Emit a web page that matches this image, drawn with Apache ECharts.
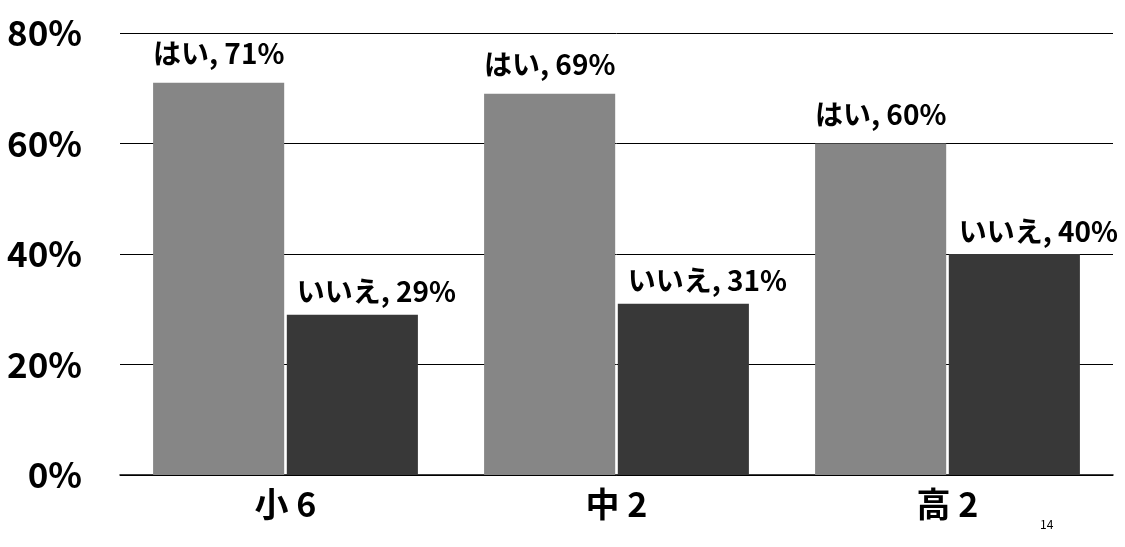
<!DOCTYPE html>
<html>
<head>
<meta charset="utf-8">
<script src="https://cdn.jsdelivr.net/npm/echarts@6/dist/echarts.min.js"></script>
<style>
html,body{margin:0;padding:0;background:#fff;}
#chart{width:1125px;height:547px;}
</style>
</head>
<body>
<div id="chart"></div>
<script>
const categories = ['小 6', '中 2', '高 2'];
const seriesNames = ['はい', 'いいえ'];
const yesValues = [71, 69, 60];
const noValues = [29, 31, 40];
const yTicks = [0, 20, 40, 60, 80];
const pageNumber = '14';

const FONT = '"Noto Sans CJK JP", "Noto Sans", sans-serif';
const chart = echarts.init(document.getElementById('chart'));
chart.setOption({
  backgroundColor: '#ffffff',
  animation: false,
  grid: { left: 120, right: 12, top: 33, bottom: 72, containLabel: false },
  xAxis: {
    type: 'category',
    data: categories,
    axisLine: { show: true, lineStyle: { color: '#000', width: 1.5 } },
    axisTick: { show: false },
    axisLabel: { color: '#000', fontSize: 34, fontWeight: 'bold', fontFamily: FONT, margin: 12 }
  },
  yAxis: {
    type: 'value',
    min: yTicks[0],
    max: yTicks[yTicks.length - 1],
    interval: 20,
    axisLine: { show: false },
    axisTick: { show: false },
    axisLabel: { color: '#000', fontSize: 35, fontWeight: 'bold', fontFamily: FONT, margin: 38, formatter: '{value}%' },
    splitLine: { lineStyle: { color: '#000', width: 1 } }
  },
  series: [
    {
      name: seriesNames[0],
      type: 'bar',
      data: yesValues,
      barCategoryGap: '20%',
      barGap: '2%',
      itemStyle: { color: '#868686' },
      label: {
        show: true, position: 'top', distance: 15,
        formatter: '{a}, {c}%',
        color: '#000', fontSize: 28, fontWeight: 'bold', fontFamily: FONT
      }
    },
    {
      name: seriesNames[1],
      type: 'bar',
      data: noValues,
      itemStyle: { color: '#383838' },
      label: {
        show: true, position: 'top', distance: 9, offset: [24, 0],
        formatter: '{a}, {c}%',
        color: '#000', fontSize: 28, fontWeight: 'bold', fontFamily: FONT
      }
    }
  ],
  graphic: [{
    type: 'text', left: 1040, top: 518,
    style: { text: pageNumber, fill: '#000', fontSize: 12, fontFamily: FONT }
  }]
});
</script>
</body>
</html>
